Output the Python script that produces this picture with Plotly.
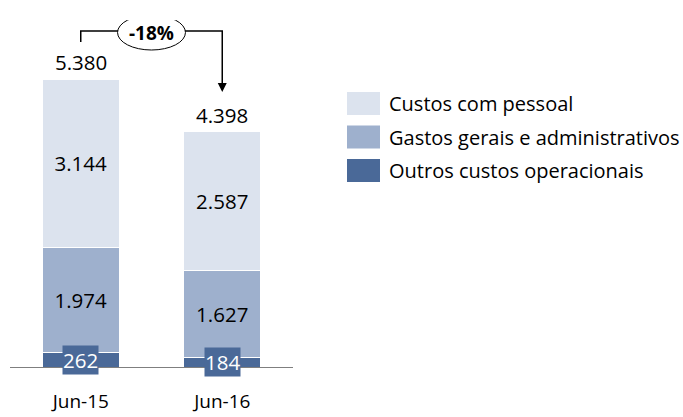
import plotly.graph_objects as go

categories = ["Jun-15", "Jun-16"]
series_names = ["Outros custos operacionais", "Gastos gerais e administrativos", "Custos com pessoal"]
outros = [262, 184]
gastos = [1974, 1627]
pessoal = [3144, 2587]
totals = [5380, 4398]
change_label = "-18%"

colors = {"Custos com pessoal": "#dce3ee",
          "Gastos gerais e administrativos": "#9eb0cd",
          "Outros custos operacionais": "#4a6998"}

FONT = "Open Sans"
W, H = 683, 417
T, B = 20, 50
PH = H - T - B
YMAX = 6486

def fmt(v):
    return f"{v:,}".replace(",", ".")

def py(p):  # pixel y -> data y
    return (H - B - p) / PH * YMAX

def ppx(p):  # pixel x -> paper
    return p / W

def ppy(p):  # pixel y -> paper
    return (H - B - p) / PH

fig = go.Figure()
data = {"Outros custos operacionais": outros,
        "Gastos gerais e administrativos": gastos,
        "Custos com pessoal": pessoal}
for name in series_names:
    vals = data[name]
    dark = name == "Outros custos operacionais"
    fig.add_trace(go.Bar(
        x=categories, y=vals, name=name,
        marker=dict(color=colors[name], line=dict(color="white", width=1)),
        text=None if dark else [fmt(v) for v in vals],
        textposition="inside", insidetextanchor="middle",
        textfont=dict(family=FONT, size=20.5, color="black"),
        width=0.545, showlegend=False, hoverinfo="skip",
    ))

annotations = []
# dark segment labels in boxes
for c, v in zip(categories, outros):
    annotations.append(dict(x=c, y=v / 2, text=fmt(v), showarrow=False,
                            font=dict(family=FONT, size=20.5, color="white"),
                            bgcolor=colors["Outros custos operacionais"], borderpad=0,
                            xref="x", yref="y"))
# totals
for c, v in zip(categories, totals):
    annotations.append(dict(x=c, y=v, text=fmt(v), showarrow=False, yshift=17,
                            font=dict(family=FONT, size=20.5, color="black"),
                            xref="x", yref="y"))

# bracket
y_top = py(31)
y_left = py(42)
y_tip = py(92)
shapes = [
    dict(type="path", xref="x", yref="y",
         path=f"M 0,{y_left} L 0,{y_top} L 1,{y_top} L 1,{py(84)}",
         line=dict(color="black", width=1.5)),
    dict(type="circle", xref="x", yref="y",
         x0=0.5 - 0.24, x1=0.5 + 0.24, y0=py(32.5 + 17.5), y1=py(32.5 - 17.5),
         fillcolor="white", line=dict(color="black", width=1)),
]
annotations.append(dict(x=1, y=y_tip, ax=1, ay=py(84), axref="x", ayref="y",
                        xref="x", yref="y", showarrow=True, arrowhead=2,
                        arrowsize=1.2, arrowwidth=1.5, arrowcolor="black", text=""))
annotations.append(dict(x=0.5, y=py(32.5), xref="x", yref="y", text=f"<b>{change_label}</b>",
                        showarrow=False, font=dict(family=FONT, size=19, color="black")))

# custom legend
legend_order = ["Custos com pessoal", "Gastos gerais e administrativos", "Outros custos operacionais"]
for i, name in enumerate(legend_order):
    cy = 103.5 + i * 33.5
    shapes.append(dict(type="rect", xref="paper", yref="paper",
                       x0=ppx(347), x1=ppx(380), y0=ppy(cy + 11.5), y1=ppy(cy - 11.5),
                       fillcolor=colors[name], line=dict(width=0)))
    annotations.append(dict(x=ppx(387), y=ppy(cy), xref="paper", yref="paper",
                            xanchor="left", yanchor="middle", text=name, showarrow=False,
                            font=dict(family=FONT, size=20, color="black")))

fig.update_layout(
    barmode="stack", width=W, height=H,
    margin=dict(l=0, r=0, t=T, b=B, autoexpand=False),
    plot_bgcolor="white", paper_bgcolor="white",
    separators=",.",
    shapes=shapes, annotations=annotations,
    xaxis=dict(domain=[10 / W, 293 / W], range=[-0.5, 1.5], showline=True,
               linecolor="#7f7f7f", linewidth=1, showgrid=False, ticks="",
               ticklabelstandoff=17, automargin=False,
               tickfont=dict(family=FONT, size=19, color="black")),
    yaxis=dict(range=[0, YMAX], visible=False, showgrid=False, zeroline=False,
               automargin=False),
    showlegend=False,
)

fig.write_html("out.html", config={"displayModeBar": False},
               post_script="document.body.style.margin='0';document.body.style.overflow='hidden';")
